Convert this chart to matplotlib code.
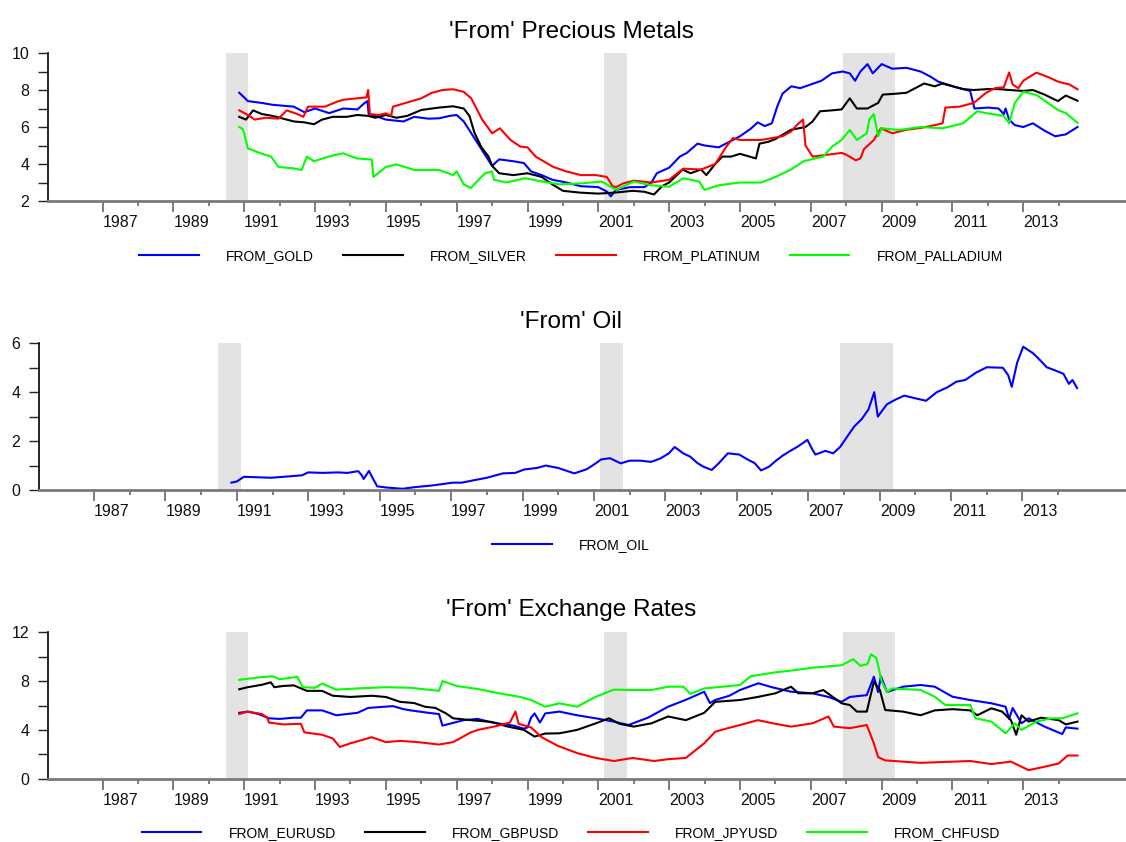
import matplotlib
matplotlib.use("Agg")
import matplotlib.pyplot as plt

plt.rcParams['font.family'] = ['Liberation Sans', 'DejaVu Sans']

# === Data: (year, value) ===
gold = [(1990.86, 7.85), (1991.0, 7.6), (1991.1, 7.4), (1991.5, 7.3), (1991.8, 7.2), (1992.1, 7.15),
        (1992.4, 7.1), (1992.7, 6.8), (1993.0, 7.0), (1993.4, 6.75), (1993.8, 7.0), (1994.2, 6.95),
        (1994.4, 7.3), (1994.48, 7.4), (1994.52, 6.6), (1994.7, 6.6), (1995.0, 6.4), (1995.5, 6.3),
        (1995.8, 6.55), (1996.2, 6.45), (1996.5, 6.47), (1996.8, 6.6), (1997.0, 6.65), (1997.2, 6.3),
        (1997.4, 5.7), (1997.6, 5.1), (1997.8, 4.5), (1998.0, 3.9), (1998.2, 4.25), (1998.6, 4.15),
        (1998.9, 4.05), (1999.1, 3.6), (1999.4, 3.4), (1999.7, 3.15), (2000.1, 3.0), (2000.5, 2.8),
        (2001.0, 2.75), (2001.25, 2.5), (2001.35, 2.25), (2001.5, 2.6), (2001.9, 2.75), (2002.3, 2.75),
        (2002.5, 3.0), (2002.65, 3.5), (2003.0, 3.8), (2003.3, 4.4), (2003.5, 4.6), (2003.8, 5.1),
        (2004.0, 5.0), (2004.4, 4.9), (2004.7, 5.2), (2005.0, 5.5), (2005.3, 5.9), (2005.5, 6.25),
        (2005.7, 6.05), (2005.9, 6.2), (2006.05, 7.1), (2006.2, 7.8), (2006.45, 8.2), (2006.7, 8.1),
        (2007.0, 8.3), (2007.3, 8.5), (2007.6, 8.9), (2007.9, 9.0), (2008.1, 8.9), (2008.25, 8.5),
        (2008.4, 9.0), (2008.6, 9.4), (2008.75, 8.9), (2009.0, 9.4), (2009.3, 9.15), (2009.7, 9.2),
        (2010.1, 9.0), (2010.4, 8.7), (2010.6, 8.45), (2011.1, 8.15), (2011.5, 7.95), (2011.62, 7.0),
        (2012.0, 7.05), (2012.3, 7.0), (2012.45, 6.7), (2012.5, 7.0), (2012.6, 6.4), (2012.76, 6.1),
        (2013.0, 6.0), (2013.27, 6.2), (2013.6, 5.8), (2013.9, 5.5), (2014.2, 5.6), (2014.53, 6.0)]

silver = [(1990.86, 6.55), (1991.05, 6.4), (1991.25, 6.9), (1991.5, 6.7), (1991.8, 6.6), (1992.1, 6.45),
          (1992.4, 6.3), (1992.7, 6.25), (1992.97, 6.15), (1993.2, 6.4), (1993.5, 6.55), (1993.9, 6.55),
          (1994.2, 6.65), (1994.5, 6.6), (1994.7, 6.5), (1995.0, 6.65), (1995.3, 6.5), (1995.6, 6.6),
          (1996.0, 6.92), (1996.5, 7.05), (1996.9, 7.12), (1997.2, 7.0), (1997.36, 6.6), (1997.5, 5.7),
          (1997.7, 4.9), (1997.9, 4.4), (1998.0, 3.9), (1998.2, 3.5), (1998.6, 3.4), (1999.0, 3.5),
          (1999.4, 3.3), (1999.7, 2.9), (2000.0, 2.55), (2000.5, 2.45), (2001.0, 2.4), (2001.45, 2.45),
          (2001.97, 2.55), (2002.3, 2.5), (2002.57, 2.35), (2002.8, 2.8), (2003.0, 3.0), (2003.38, 3.7),
          (2003.6, 3.5), (2003.9, 3.7), (2004.05, 3.4), (2004.3, 4.0), (2004.5, 4.4), (2004.75, 4.4),
          (2005.0, 4.55), (2005.45, 4.3), (2005.55, 5.1), (2005.8, 5.2), (2006.0, 5.35), (2006.44, 5.85),
          (2006.85, 6.0), (2007.05, 6.3), (2007.26, 6.85), (2007.6, 6.9), (2007.87, 6.95), (2008.1, 7.55),
          (2008.3, 7.0), (2008.6, 7.0), (2008.9, 7.3), (2009.03, 7.75), (2009.4, 7.8), (2009.7, 7.85),
          (2010.2, 8.35), (2010.5, 8.2), (2010.72, 8.35), (2011.0, 8.2), (2011.3, 8.05), (2011.6, 8.0),
          (2012.0, 8.05), (2012.3, 8.05), (2012.6, 8.0), (2013.0, 7.95), (2013.27, 8.0), (2013.6, 7.75),
          (2013.98, 7.4), (2014.2, 7.7), (2014.53, 7.42)]

platinum = [(1990.86, 6.9), (1991.1, 6.65), (1991.3, 6.4), (1991.6, 6.5), (1991.97, 6.45), (1992.2, 6.9),
            (1992.5, 6.7), (1992.67, 6.55), (1992.8, 7.1), (1993.28, 7.1), (1993.6, 7.35), (1993.79, 7.47),
            (1994.18, 7.55), (1994.45, 7.6), (1994.5, 8.0), (1994.55, 6.7), (1994.8, 6.65), (1995.0, 6.74),
            (1995.15, 6.6), (1995.2, 7.1), (1995.7, 7.38), (1996.0, 7.55), (1996.3, 7.85), (1996.6, 8.0),
            (1996.9, 8.04), (1997.2, 7.9), (1997.41, 7.55), (1997.56, 7.0), (1997.72, 6.4), (1998.0, 5.66),
            (1998.22, 5.93), (1998.52, 5.3), (1998.8, 4.94), (1999.0, 4.9), (1999.23, 4.4), (1999.73, 3.84),
            (2000.1, 3.6), (2000.5, 3.4), (2000.93, 3.4), (2001.24, 3.3), (2001.4, 2.8), (2001.5, 2.75),
            (2001.7, 2.95), (2002.0, 3.1), (2002.5, 3.0), (2003.0, 3.15), (2003.4, 3.75), (2003.9, 3.7),
            (2004.3, 4.0), (2004.6, 4.9), (2004.8, 5.4), (2005.0, 5.3), (2005.3, 5.3), (2005.6, 5.3),
            (2006.2, 5.5), (2006.44, 5.75), (2006.6, 6.1), (2006.78, 6.4), (2006.85, 5.0), (2007.05, 4.4),
            (2007.47, 4.5), (2007.87, 4.6), (2008.0, 4.5), (2008.27, 4.2), (2008.4, 4.3), (2008.5, 4.8),
            (2008.78, 5.3), (2008.98, 5.93), (2009.3, 5.66), (2009.7, 5.85), (2010.1, 5.95), (2010.5, 6.1),
            (2010.72, 6.2), (2010.8, 7.05), (2011.2, 7.1), (2011.6, 7.3), (2011.95, 7.85), (2012.2, 8.1),
            (2012.45, 8.15), (2012.6, 8.95), (2012.7, 8.3), (2012.86, 8.1), (2013.0, 8.5), (2013.37, 8.94),
            (2013.7, 8.7), (2013.98, 8.45), (2014.3, 8.3), (2014.53, 8.04)]

palladium = [(1990.86, 6.0), (1990.95, 5.9), (1991.0, 5.66), (1991.1, 4.85), (1991.46, 4.58), (1991.76, 4.4),
             (1991.97, 3.84), (1992.37, 3.77), (1992.62, 3.68), (1992.77, 4.4), (1992.97, 4.15), (1993.38, 4.4),
             (1993.79, 4.58), (1994.18, 4.3), (1994.6, 4.24), (1994.65, 3.3), (1995.0, 3.84), (1995.3, 3.98),
             (1995.8, 3.68), (1996.5, 3.68), (1996.9, 3.4), (1997.0, 3.6), (1997.2, 2.9), (1997.4, 2.7),
             (1997.62, 3.15), (1997.8, 3.5), (1998.0, 3.6), (1998.05, 3.15), (1998.4, 3.0), (1998.93, 3.23),
             (1999.42, 3.05), (1999.9, 2.9), (2000.5, 2.95), (2001.1, 3.05), (2001.5, 2.6), (2002.0, 3.05),
             (2002.5, 2.85), (2003.0, 2.77), (2003.4, 3.23), (2003.85, 3.05), (2004.0, 2.6), (2004.4, 2.85),
             (2005.0, 3.0), (2005.6, 3.0), (2006.0, 3.3), (2006.44, 3.7), (2006.8, 4.15), (2007.35, 4.4),
             (2007.6, 4.94), (2007.87, 5.3), (2008.1, 5.84), (2008.3, 5.3), (2008.58, 5.66), (2008.65, 6.4),
             (2008.78, 6.7), (2008.9, 5.5), (2009.0, 5.93), (2009.5, 5.84), (2010.1, 6.0), (2010.72, 5.93),
             (2011.3, 6.2), (2011.7, 6.85), (2011.95, 6.75), (2012.45, 6.6), (2012.6, 6.2), (2012.76, 7.3),
             (2013.0, 7.9), (2013.37, 7.73), (2013.98, 6.92), (2014.2, 6.75), (2014.53, 6.23)]

oil = [(1990.85, 0.3), (1991.0, 0.35), (1991.2, 0.54), (1991.6, 0.52), (1991.95, 0.5), (1992.4, 0.55),
       (1992.82, 0.6), (1993.0, 0.72), (1993.4, 0.7), (1993.83, 0.72), (1994.1, 0.7), (1994.4, 0.77),
       (1994.5, 0.6), (1994.55, 0.45), (1994.7, 0.78), (1994.8, 0.5), (1994.93, 0.15), (1995.2, 0.1),
       (1995.64, 0.05), (1996.0, 0.12), (1996.44, 0.18), (1996.8, 0.25), (1997.05, 0.3), (1997.3, 0.3),
       (1997.64, 0.4), (1998.0, 0.5), (1998.45, 0.68), (1998.8, 0.7), (1999.05, 0.84), (1999.4, 0.9),
       (1999.65, 1.0), (2000.0, 0.9), (2000.45, 0.68), (2000.8, 0.85), (2001.06, 1.1), (2001.2, 1.25),
       (2001.45, 1.3), (2001.75, 1.09), (2002.0, 1.2), (2002.3, 1.2), (2002.6, 1.15), (2002.86, 1.29),
       (2003.1, 1.5), (2003.26, 1.76), (2003.5, 1.5), (2003.7, 1.36), (2003.9, 1.1), (2004.07, 0.95),
       (2004.3, 0.82), (2004.5, 1.1), (2004.75, 1.5), (2005.07, 1.45), (2005.3, 1.25), (2005.5, 1.1),
       (2005.68, 0.8), (2005.9, 0.95), (2006.1, 1.2), (2006.28, 1.4), (2006.5, 1.6), (2006.7, 1.77),
       (2006.98, 2.05), (2007.1, 1.7), (2007.2, 1.45), (2007.48, 1.6), (2007.7, 1.5), (2007.9, 1.77),
       (2008.1, 2.2), (2008.29, 2.6), (2008.5, 2.9), (2008.69, 3.3), (2008.85, 4.0), (2008.95, 3.0),
       (2009.0, 3.1), (2009.2, 3.5), (2009.45, 3.7), (2009.69, 3.86), (2010.0, 3.75), (2010.3, 3.65),
       (2010.6, 4.0), (2010.9, 4.2), (2011.15, 4.43), (2011.4, 4.5), (2011.7, 4.8), (2012.0, 5.02),
       (2012.45, 5.0), (2012.6, 4.7), (2012.7, 4.22), (2012.85, 5.2), (2013.02, 5.86), (2013.3, 5.59),
       (2013.5, 5.3), (2013.68, 5.02), (2013.9, 4.9), (2014.15, 4.75), (2014.3, 4.34), (2014.4, 4.5),
       (2014.53, 4.17)]

eurusd = [(1990.86, 5.4), (1991.1, 5.5), (1991.4, 5.3), (1991.7, 4.95), (1992.0, 4.9), (1992.4, 5.0),
          (1992.6, 5.0), (1992.77, 5.6), (1993.2, 5.6), (1993.6, 5.2), (1994.2, 5.4), (1994.5, 5.8),
          (1995.2, 5.95), (1995.5, 5.7), (1995.7, 5.6), (1996.2, 5.4), (1996.5, 5.3), (1996.6, 4.35),
          (1996.8, 4.5), (1997.2, 4.8), (1997.6, 4.9), (1998.0, 4.6), (1998.6, 4.35), (1998.9, 4.1),
          (1999.0, 4.2), (1999.1, 5.0), (1999.2, 5.35), (1999.35, 4.6), (1999.5, 5.35), (1999.9, 5.5),
          (2000.4, 5.2), (2000.93, 4.95), (2001.4, 4.7), (2001.85, 4.4), (2002.4, 5.0), (2002.97, 5.9),
          (2003.5, 6.5), (2003.99, 7.13), (2004.15, 6.2), (2004.3, 6.45), (2004.7, 6.8), (2005.0, 7.27),
          (2005.52, 7.82), (2005.9, 7.5), (2006.44, 7.13), (2007.05, 7.0), (2007.5, 6.7), (2007.87, 6.3),
          (2008.1, 6.7), (2008.58, 6.85), (2008.78, 8.36), (2008.9, 7.1), (2008.98, 8.4), (2009.15, 7.1),
          (2009.6, 7.54), (2010.1, 7.68), (2010.5, 7.54), (2011.0, 6.72), (2011.5, 6.45), (2012.1, 6.18),
          (2012.5, 5.9), (2012.6, 4.9), (2012.7, 5.8), (2012.95, 4.54), (2013.15, 4.95), (2013.6, 4.27),
          (2014.1, 3.66), (2014.2, 4.2), (2014.53, 4.1)]

gbpusd = [(1990.86, 7.33), (1991.1, 7.5), (1991.5, 7.7), (1991.75, 7.9), (1991.85, 7.5), (1992.1, 7.6),
          (1992.4, 7.65), (1992.77, 7.2), (1993.2, 7.2), (1993.5, 6.8), (1994.0, 6.7), (1994.6, 6.8),
          (1995.0, 6.7), (1995.4, 6.3), (1995.8, 6.2), (1996.1, 5.9), (1996.4, 5.8), (1996.7, 5.35),
          (1996.9, 4.95), (1997.4, 4.8), (1998.0, 4.65), (1998.4, 4.3), (1998.9, 4.0), (1999.2, 3.45),
          (1999.5, 3.7), (1999.9, 3.72), (2000.4, 4.0), (2000.93, 4.54), (2001.3, 4.95), (2001.6, 4.5),
          (2002.0, 4.27), (2002.5, 4.54), (2002.97, 5.1), (2003.47, 4.8), (2003.99, 5.4), (2004.3, 6.3),
          (2005.0, 6.45), (2005.5, 6.7), (2006.0, 7.0), (2006.44, 7.54), (2006.65, 7.0), (2007.05, 7.0),
          (2007.35, 7.27), (2007.87, 6.18), (2008.1, 6.04), (2008.3, 5.5), (2008.58, 5.5), (2008.78, 7.95),
          (2008.95, 7.27), (2009.1, 5.63), (2009.6, 5.5), (2010.1, 5.2), (2010.5, 5.6), (2011.0, 5.7),
          (2011.5, 5.6), (2011.7, 5.2), (2012.1, 5.77), (2012.4, 5.5), (2012.65, 4.8), (2012.8, 3.6),
          (2012.95, 5.2), (2013.15, 4.68), (2013.5, 5.0), (2014.0, 4.8), (2014.2, 4.45), (2014.53, 4.68)]

jpyusd = [(1990.86, 5.3), (1991.1, 5.5), (1991.5, 5.3), (1991.65, 5.0), (1991.7, 4.6), (1992.1, 4.45),
          (1992.6, 4.5), (1992.7, 3.8), (1993.2, 3.6), (1993.5, 3.3), (1993.7, 2.6), (1994.0, 2.9),
          (1994.6, 3.4), (1995.0, 3.0), (1995.4, 3.1), (1995.9, 3.0), (1996.5, 2.8), (1996.9, 3.0),
          (1997.4, 3.8), (1997.6, 4.0), (1998.1, 4.3), (1998.5, 4.6), (1998.66, 5.5), (1998.75, 4.5),
          (1999.1, 4.2), (1999.4, 3.4), (1999.85, 2.7), (2000.4, 2.1), (2000.93, 1.7), (2001.44, 1.45),
          (2001.97, 1.7), (2002.57, 1.45), (2002.97, 1.6), (2003.47, 1.7), (2003.99, 2.9), (2004.3, 3.85),
          (2004.6, 4.1), (2005.0, 4.4), (2005.5, 4.8), (2006.0, 4.5), (2006.44, 4.27), (2007.05, 4.54),
          (2007.5, 5.1), (2007.65, 4.27), (2008.1, 4.14), (2008.58, 4.4), (2008.78, 2.9), (2008.9, 1.77),
          (2009.1, 1.5), (2010.1, 1.3), (2011.5, 1.45), (2012.1, 1.2), (2012.65, 1.4), (2013.15, 0.7),
          (2013.6, 0.98), (2014.0, 1.25), (2014.25, 1.9), (2014.53, 1.9)]

chfusd = [(1990.86, 8.1), (1991.4, 8.3), (1991.8, 8.4), (1992.0, 8.15), (1992.5, 8.35), (1992.65, 7.5),
          (1993.0, 7.45), (1993.2, 7.8), (1993.6, 7.3), (1994.2, 7.4), (1995.0, 7.5), (1995.7, 7.45),
          (1996.5, 7.2), (1996.6, 8.0), (1997.0, 7.6), (1997.6, 7.35), (1998.2, 7.0), (1998.8, 6.7),
          (1999.1, 6.45), (1999.5, 5.9), (1999.9, 6.18), (2000.4, 5.9), (2000.93, 6.72), (2001.44, 7.3),
          (2001.97, 7.27), (2002.5, 7.27), (2002.97, 7.54), (2003.4, 7.54), (2003.6, 6.95), (2003.99, 7.4),
          (2004.5, 7.54), (2005.0, 7.68), (2005.3, 8.4), (2006.0, 8.72), (2006.44, 8.86), (2007.05, 9.1),
          (2007.87, 9.3), (2008.2, 9.8), (2008.4, 9.25), (2008.6, 9.4), (2008.7, 10.2), (2008.85, 9.9),
          (2009.0, 8.0), (2009.15, 7.1), (2009.3, 7.4), (2010.1, 7.27), (2010.5, 6.72), (2010.8, 6.04),
          (2011.5, 6.04), (2011.65, 4.95), (2012.1, 4.68), (2012.5, 3.72), (2012.76, 4.54), (2012.95, 4.0),
          (2013.37, 4.68), (2013.8, 4.95), (2014.1, 4.95), (2014.53, 5.36)]

recessions = [(1990.48, 1991.12), (2001.16, 2001.81), (2007.90, 2009.38)]
label_years = list(range(1987, 2014, 2))

W, H = 1126, 842
XLIM = (1985.46, 2015.9)
MID = 571 / W


def make_axes(fig, left, top, bottom):
    return fig.add_axes([left / W, 1 - bottom / H, (W - left) / W, (bottom - top) / H])


def style_axes(ax, ylim, major, minor):
    ax.set_xlim(*XLIM)
    ax.set_ylim(*ylim)
    for a, b in recessions:
        ax.axvspan(a, b, color='#e3e3e3', lw=0, zorder=0)
    for s in ['top', 'right']:
        ax.spines[s].set_visible(False)
    ax.spines['left'].set_color('black')
    ax.spines['left'].set_linewidth(1.2)
    ax.spines['bottom'].set_color('#7a7a7a')
    ax.spines['bottom'].set_linewidth(2)
    ax.spines['bottom'].set_zorder(5)
    ax.set_xticks(range(1987, 2015, 2))
    ax.set_xticks(range(1988, 2015, 2), minor=True)
    ax.tick_params(axis='x', which='major', length=8, width=1.2, color='#666666', labelbottom=False)
    ax.tick_params(axis='x', which='minor', length=3.8, width=1.2, color='#666666')
    for yr in label_years:
        ax.annotate(str(yr), xy=(yr + 0.5, 0), xycoords=('data', 'axes fraction'),
                    xytext=(0, -15.5), textcoords='offset points',
                    ha='center', va='center', fontsize=11.5, color='#111111')
    ax.set_yticks(major)
    ax.set_yticks(minor, minor=True)
    ax.tick_params(axis='y', which='both', length=7, width=1, color='#222222',
                   pad=6.5, labelsize=11.5, labelcolor='#111111')


def draw(ax, series, names, colors):
    for data, name, c in zip(series, names, colors):
        t, v = zip(*data)
        ax.plot(t, v, color=c, lw=1.5, label=name, zorder=3)


def add_legend(ax, ncol, ypix):
    ax.legend(loc='center', bbox_to_anchor=(MID, 1 - ypix / H), bbox_transform=fig.transFigure,
              ncol=ncol, frameon=False, handlelength=4.3, handletextpad=1.95, columnspacing=2.1,
              fontsize=10)


fig = plt.figure(figsize=(W / 100, H / 100), dpi=100)

# --- Precious metals ---
ax1 = make_axes(fig, 48, 53, 201)
style_axes(ax1, (2, 10), [2, 4, 6, 8, 10], [3, 5, 7, 9])
draw(ax1, [gold, silver, platinum, palladium],
     ['FROM_GOLD', 'FROM_SILVER', 'FROM_PLATINUM', 'FROM_PALLADIUM'],
     ['#0000ff', '#000000', '#ff0000', '#00ff00'])
fig.text(MID, 1 - 37.5 / H, "'From' Precious Metals", ha='center', va='baseline', fontsize=17.5)
add_legend(ax1, 4, 256)

# --- Oil ---
ax2 = make_axes(fig, 39, 343.3, 490)
style_axes(ax2, (0, 6), [0, 2, 4, 6], [1, 3, 5])
draw(ax2, [oil], ['FROM_OIL'], ['#0000ff'])
fig.text(MID, 1 - 328.5 / H, "'From' Oil", ha='center', va='baseline', fontsize=17.5)
add_legend(ax2, 1, 545)

# --- Exchange rates ---
ax3 = make_axes(fig, 48, 632.3, 778.7)
style_axes(ax3, (0, 12), [0, 4, 8, 12], [2, 6, 10])
draw(ax3, [eurusd, gbpusd, jpyusd, chfusd],
     ['FROM_EURUSD', 'FROM_GBPUSD', 'FROM_JPYUSD', 'FROM_CHFUSD'],
     ['#0000ff', '#000000', '#ff0000', '#00ff00'])
fig.text(MID, 1 - 616 / H, "'From' Exchange Rates", ha='center', va='baseline', fontsize=17.5)
add_legend(ax3, 4, 833)

fig.savefig('out.png', dpi=100)
